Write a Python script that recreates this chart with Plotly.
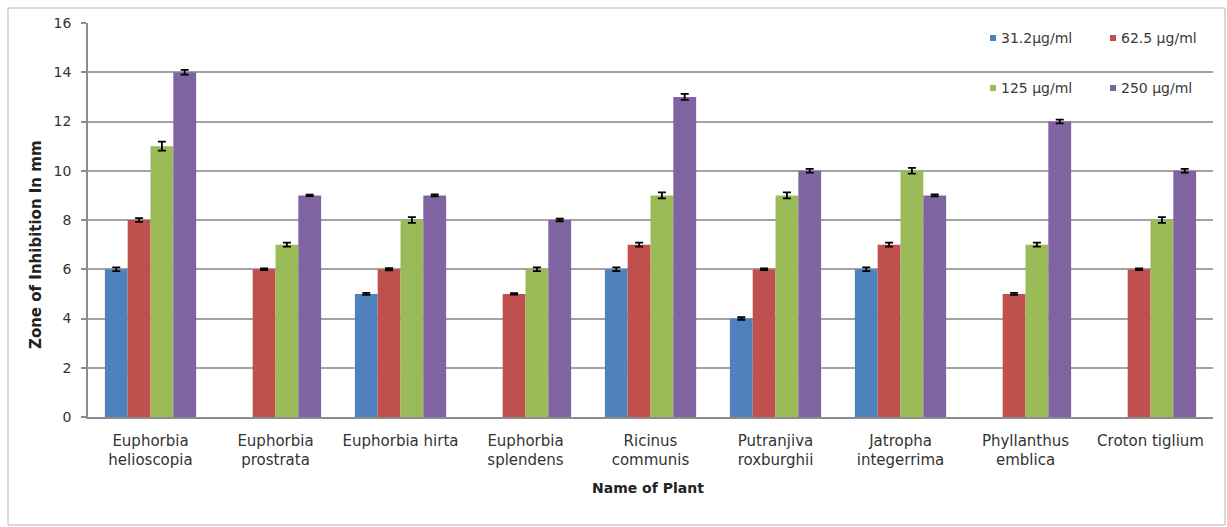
import plotly.graph_objects as go

# Plant extracts tested
plants = [
    "Euphorbia<br>helioscopia",
    "Euphorbia<br>prostrata",
    "Euphorbia hirta",
    "Euphorbia<br>splendens",
    "Ricinus<br>communis",
    "Putranjiva<br>roxburghii",
    "Jatropha<br>integerrima",
    "Phyllanthus<br>emblica",
    "Croton tiglium",
]

# Concentrations (series names)
concentrations = ["31.2µg/ml", "62.5 µg/ml", "125 µg/ml", "250 µg/ml"]

# Zone of inhibition (mm) per concentration
zone_31 = [6, None, 5, None, 6, 4, 6, None, None]
zone_62 = [8, 6, 6, 5, 7, 6, 7, 5, 6]
zone_125 = [11, 7, 8, 6, 9, 9, 10, 7, 8]
zone_250 = [14, 9, 9, 8, 13, 10, 9, 12, 10]

# Standard errors (mm)
err_31 = [0.08, None, 0.04, None, 0.08, 0.05, 0.08, None, None]
err_62 = [0.08, 0.03, 0.04, 0.03, 0.08, 0.03, 0.08, 0.04, 0.03]
err_125 = [0.18, 0.08, 0.12, 0.08, 0.12, 0.12, 0.12, 0.08, 0.12]
err_250 = [0.1, 0.03, 0.04, 0.05, 0.12, 0.08, 0.04, 0.08, 0.08]

y_ticks = [0, 2, 4, 6, 8, 10, 12, 14, 16]

colors = ["#4F81BD", "#C0504D", "#9BBB59", "#8064A2"]
values = [zone_31, zone_62, zone_125, zone_250]
errors = [err_31, err_62, err_125, err_250]

FONT = "DejaVu Sans"

fig = go.Figure()
for name, vals, errs, col in zip(concentrations, values, errors, colors):
    fig.add_trace(go.Bar(
        x=plants, y=vals, name=name,
        marker=dict(color=col, line=dict(width=0)),
        error_y=dict(type="data", array=errs, visible=True,
                     color="black", thickness=1.8, width=4),
        showlegend=False,
    ))

# plot-area pixel frame used for placing decorations
L, R, T, B = 88, 1213, 23, 417
W, H = 1227, 527


def px(x):
    return (x - L) / (R - L)


def py(y):
    return (B - y) / (B - T)


shapes = [
    # outer chart frame
    dict(type="rect", xref="paper", yref="paper",
         x0=px(8), x1=px(1225), y0=py(525), y1=py(8),
         line=dict(color="#b5b5b5", width=1), fillcolor="rgba(0,0,0,0)",
         layer="below"),
]
annotations = []

# legend: two rows of two entries
legend_pos = [(990, 38), (1110, 38), (990, 88), (1110, 88)]
for (lx, ly), name, col in zip(legend_pos, concentrations, colors):
    shapes.append(dict(type="rect", xref="paper", yref="paper",
                       x0=px(lx), x1=px(lx + 6), y0=py(ly + 3), y1=py(ly - 3),
                       line=dict(width=0), fillcolor=col))
    annotations.append(dict(xref="paper", yref="paper", x=px(lx + 9), y=py(ly),
                            xanchor="left", yanchor="middle", showarrow=False,
                            text=name, font=dict(family=FONT, size=14, color="#3a3a3a")))

# y-axis title
annotations.append(dict(xref="paper", yref="paper", x=px(36), y=py(245),
                        xanchor="center", yanchor="middle", showarrow=False,
                        textangle=-90, text="<b>Zone of Inhibition In mm</b>",
                        font=dict(family=FONT, size=15, color="#222222")))
# x-axis title
annotations.append(dict(xref="paper", yref="paper", x=px(648), y=py(488),
                        xanchor="center", yanchor="middle", showarrow=False,
                        text="<b>Name of Plant</b>",
                        font=dict(family=FONT, size=14, color="#222222")))

fig.update_layout(
    width=W, height=H,
    margin=dict(l=L, r=W - R, t=T, b=H - B, autoexpand=False),
    paper_bgcolor="white", plot_bgcolor="white",
    barmode="group", bargap=0.27, bargroupgap=0,
    font=dict(family=FONT, color="#333333"),
    shapes=shapes, annotations=annotations,
    xaxis=dict(
        tickfont=dict(family=FONT, size=15, color="#333333"),
        showline=True, linecolor="#8c8c8c", linewidth=1.5,
        ticks="", ticklabelstandoff=9, showgrid=False, fixedrange=True,
    ),
    yaxis=dict(
        range=[0, 16], tickvals=y_ticks, ticktext=[str(v) for v in y_ticks],
        tickfont=dict(family=FONT, size=14, color="#333333"),
        showline=True, linecolor="#8c8c8c", linewidth=1.5,
        ticks="outside", ticklen=5, tickcolor="#8c8c8c", tickwidth=1.5,
        ticklabelstandoff=7,
        showgrid=True, gridcolor="#a3a3a3", gridwidth=1.6,
        zeroline=False, fixedrange=True,
    ),
)

fig.write_html("out.html")
